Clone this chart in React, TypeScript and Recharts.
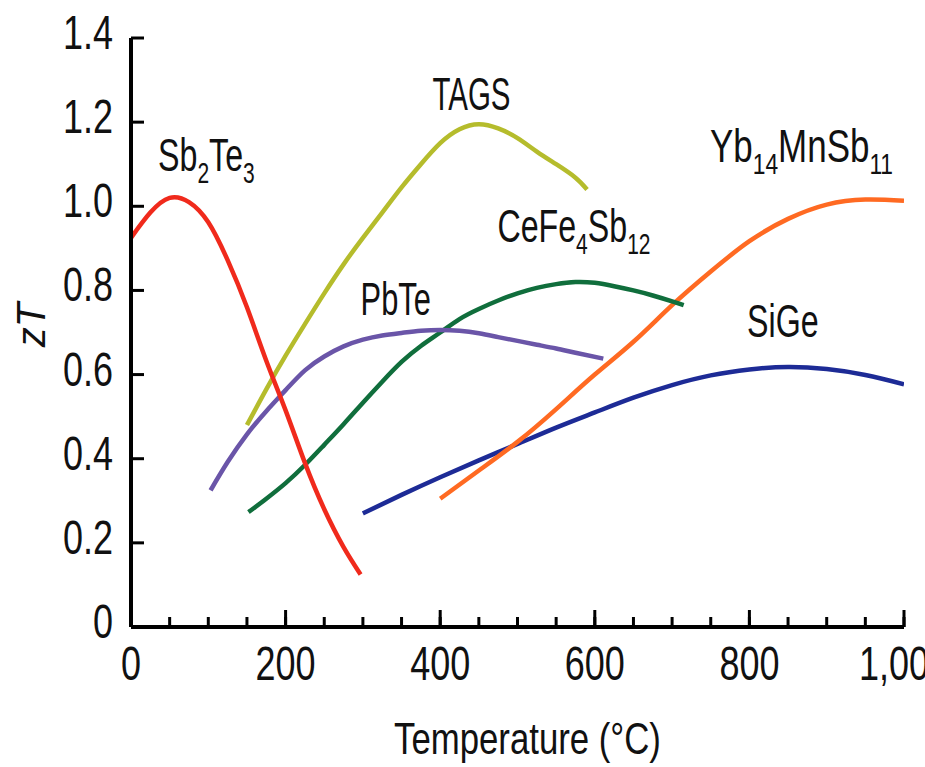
import React from 'react';
import { LineChart, Line, XAxis, YAxis, ReferenceDot } from 'recharts';

// ---- data (temperature °C, zT) ----
const sb2te3T = [0, 25, 50, 75, 100, 125, 150, 175, 200, 225, 250, 275, 297];
const sb2te3ZT = [0.925, 0.985, 1.02, 1.01, 0.962, 0.872, 0.76, 0.633, 0.515, 0.39, 0.28, 0.19, 0.125];

const tagsT = [150, 175, 200, 225, 250, 275, 300, 325, 350, 375, 400, 425, 450, 475, 500, 525, 550, 575, 590];
const tagsZT = [0.48, 0.565, 0.645, 0.72, 0.793, 0.862, 0.925, 0.985, 1.045, 1.1, 1.15, 1.183, 1.195, 1.185, 1.162, 1.13, 1.1, 1.068, 1.04];

const pbteT = [103, 125, 150, 175, 200, 225, 250, 275, 300, 325, 350, 375, 400, 425, 450, 475, 500, 525, 550, 575, 611];
const pbteZT = [0.325, 0.392, 0.458, 0.513, 0.563, 0.61, 0.643, 0.667, 0.683, 0.693, 0.699, 0.704, 0.706, 0.704, 0.698, 0.689, 0.68, 0.671, 0.662, 0.652, 0.638];

const cefeT = [152, 175, 200, 225, 250, 275, 300, 325, 350, 375, 400, 425, 450, 475, 500, 525, 550, 575, 600, 625, 650, 675, 700, 715];
const cefeZT = [0.273, 0.305, 0.342, 0.385, 0.433, 0.482, 0.533, 0.583, 0.63, 0.668, 0.7, 0.732, 0.756, 0.776, 0.793, 0.806, 0.815, 0.82, 0.818, 0.81, 0.8, 0.788, 0.774, 0.765];

const ybT = [400, 450, 500, 550, 600, 650, 700, 750, 800, 850, 900, 950, 1000];
const ybZT = [0.305, 0.372, 0.44, 0.518, 0.6, 0.678, 0.765, 0.845, 0.917, 0.97, 1.004, 1.016, 1.013];

const sigeT = [300, 350, 400, 450, 500, 550, 600, 650, 700, 750, 800, 850, 900, 950, 1000];
const sigeZT = [0.27, 0.314, 0.356, 0.396, 0.435, 0.474, 0.51, 0.545, 0.575, 0.598, 0.612, 0.618, 0.613, 0.599, 0.577];

const xTicks = [0, 50, 100, 150, 200, 250, 300, 350, 400, 450, 500, 550, 600, 650, 700, 750, 800, 850, 900, 950, 1000];
const xMajor = [0, 200, 400, 600, 800, 1000];
const xTickLabels = ['0', '200', '400', '600', '800', '1,000'];
const yTicks = [0, 0.2, 0.4, 0.6, 0.8, 1.0, 1.2, 1.4];
const yTickLabels = ['0', '0.2', '0.4', '0.6', '0.8', '1.0', '1.2', '1.4'];

const xTitle = 'Temperature (°C)';
const yTitle = 'zT';

const toPoints = (t: number[], z: number[]) => t.map((v, i) => ({ t: v, zt: z[i] }));

type Part = { s: string; sub?: boolean };

const series = [
  { key: 'SiGe', data: toPoints(sigeT, sigeZT), color: '#1d2b96', parts: [{ s: 'SiGe' }] as Part[], lx: 797, ly: 0.689, sx: 0.7 },
  { key: 'Yb14MnSb11', data: toPoints(ybT, ybZT), color: '#ff6a22', parts: [{ s: 'Yb' }, { s: '14', sub: true }, { s: 'MnSb' }, { s: '11', sub: true }] as Part[], lx: 749, ly: 1.105, sx: 0.76 },
  { key: 'CeFe4Sb12', data: toPoints(cefeT, cefeZT), color: '#106e3c', parts: [{ s: 'CeFe' }, { s: '4', sub: true }, { s: 'Sb' }, { s: '12', sub: true }] as Part[], lx: 474, ly: 0.915, sx: 0.7 },
  { key: 'PbTe', data: toPoints(pbteT, pbteZT), color: '#6a55a8', parts: [{ s: 'PbTe' }] as Part[], lx: 297, ly: 0.741, sx: 0.67 },
  { key: 'TAGS', data: toPoints(tagsT, tagsZT), color: '#b5bc2c', parts: [{ s: 'TAGS' }] as Part[], lx: 390, ly: 1.228, sx: 0.64 },
  { key: 'Sb2Te3', data: toPoints(sb2te3T, sb2te3ZT), color: '#f02a1c', parts: [{ s: 'Sb' }, { s: '2', sub: true }, { s: 'Te' }, { s: '3', sub: true }] as Part[], lx: 35, ly: 1.083, sx: 0.7 },
];

const FONT = '"Liberation Sans", Arial, Helvetica, sans-serif';
const TICK_COLOR = '#000';
const MINOR_LEN = 10;
const MAJOR_LEN = 17;

const XTickLabel = (props: any) => {
  const { x, y, payload } = props;
  const idx = xMajor.indexOf(payload.value);
  if (idx < 0) return <g />;
  const axisY = y + MINOR_LEN;
  return (
    <g>
      <path d={`M${x},${axisY}L${x},${axisY - MAJOR_LEN}`} stroke="#000" strokeWidth={3} fill="none" />
      <text transform={`translate(${x},${axisY + 53}) scale(0.75,1)`} textAnchor="middle" fontSize={48} fontFamily={FONT} fill="#111">
        {xTickLabels[idx]}
      </text>
    </g>
  );
};

const YTickLabel = (props: any) => {
  const { x, y, payload } = props;
  const idx = yTicks.findIndex((t) => Math.abs(t - payload.value) < 1e-6);
  return (
    <text transform={`translate(${x - 31},${y + 11}) scale(0.75,1)`} textAnchor="end" fontSize={48} fontFamily={FONT} fill="#111">
      {idx >= 0 ? yTickLabels[idx] : ''}
    </text>
  );
};

const SeriesLabel = ({ cx, cy, parts, sx }: { cx: number; cy: number; parts: Part[]; sx: number }) => {
  let prevSub = false;
  return (
    <text transform={`translate(${cx},${cy}) scale(${sx},1)`} fontSize={46} fontFamily={FONT} fill="#111">
      {parts.map((p, i) => {
        const sub = !!p.sub;
        const dy = sub && !prevSub ? 12 : !sub && prevSub ? -12 : 0;
        prevSub = sub;
        return (
          <tspan key={i} fontSize={sub ? 30 : 46} dy={dy}>
            {p.s}
          </tspan>
        );
      })}
    </text>
  );
};

export default function App() {
  return (
    <div style={{ position: 'absolute', left: 0, top: 0, width: 925, height: 767, background: '#fff' }}>
      <LineChart width={925} height={767} margin={{ top: 38, right: 21, bottom: 0, left: 0 }}>
        <XAxis
          xAxisId="main"
          dataKey="t"
          type="number"
          domain={[0, 1000]}
          ticks={xTicks}
          interval={0}
          height={140}
          tickSize={-MINOR_LEN}
          tickMargin={0}
          tickLine={{ stroke: TICK_COLOR, strokeWidth: 3 }}
          axisLine={{ stroke: '#000', strokeWidth: 4 }}
          tick={<XTickLabel />}
          allowDataOverflow
          label={{
            content: (p: any) => {
              const vb = p.viewBox;
              return (
                <text transform={`translate(${vb.x + vb.width / 2 + 10},${vb.y + 127}) scale(0.79,1)`} textAnchor="middle" fontSize={44} fontFamily={FONT} fill="#111">
                  {xTitle}
                </text>
              );
            },
          }}
        />
        <XAxis xAxisId="top" orientation="top" type="number" domain={[0, 1000]} height={0} tick={false} tickLine={false} axisLine={{ stroke: '#000', strokeWidth: 4 }} />
        <YAxis
          yAxisId="main"
          type="number"
          domain={[0, 1.4]}
          ticks={yTicks}
          interval={0}
          width={131}
          tickSize={-13}
          tickMargin={0}
          tickLine={{ stroke: TICK_COLOR, strokeWidth: 3 }}
          axisLine={{ stroke: '#000', strokeWidth: 4 }}
          tick={<YTickLabel />}
          allowDataOverflow
          label={{
            content: (p: any) => {
              const vb = p.viewBox;
              return (
                <text transform={`translate(${vb.x + 45},${vb.y + 287}) rotate(-90)`} textAnchor="middle" fontSize={40} fontStyle="italic" fontFamily={FONT} fill="#111">
                  {yTitle}
                </text>
              );
            },
          }}
        />
        <YAxis yAxisId="right" orientation="right" type="number" domain={[0, 1.4]} width={0} tick={false} tickLine={false} axisLine={{ stroke: '#555', strokeWidth: 4 }} />
        {series.map((s) => (
          <Line
            key={s.key}
            xAxisId="main"
            yAxisId="main"
            data={s.data}
            dataKey="zt"
            type="natural"
            stroke={s.color}
            strokeWidth={4.5}
            dot={false}
            activeDot={false}
            isAnimationActive={false}
          />
        ))}
        {series.map((s) => (
          <ReferenceDot
            key={'lbl-' + s.key}
            xAxisId="main"
            yAxisId="main"
            x={s.lx}
            y={s.ly}
            r={0}
            ifOverflow="visible"
            shape={(p: any) => <SeriesLabel cx={p.cx} cy={p.cy} parts={s.parts} sx={s.sx} />}
          />
        ))}
      </LineChart>
    </div>
  );
}
